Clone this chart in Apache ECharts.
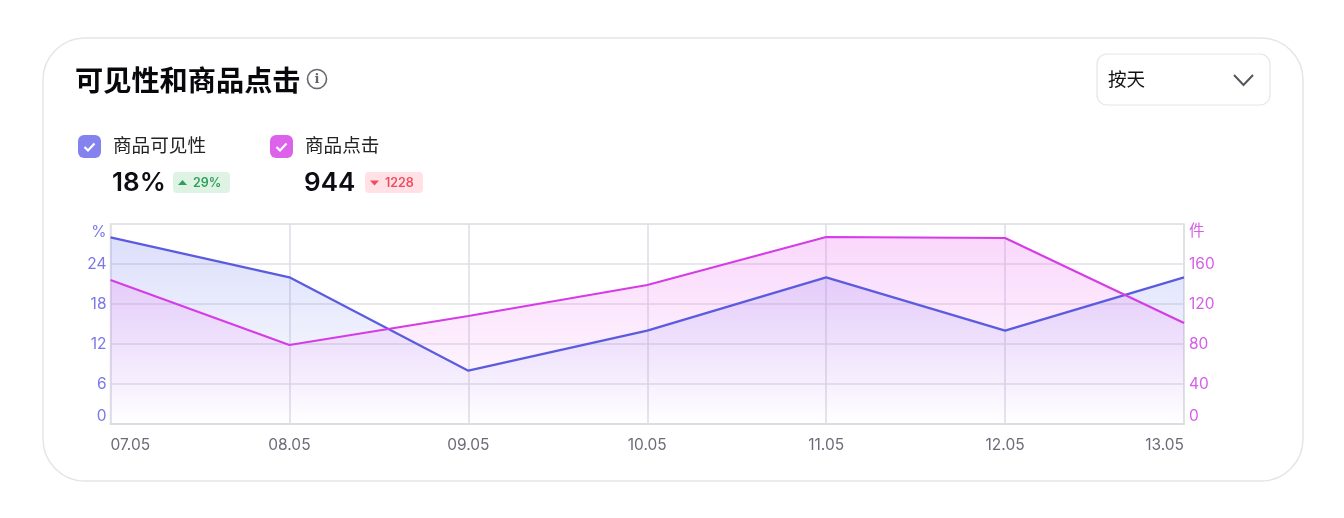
<!DOCTYPE html>
<html><head><meta charset="utf-8">
<style>html,body{margin:0;padding:0;background:#fff}#c{width:1344px;height:518px}</style>
<script src="https://cdn.jsdelivr.net/npm/echarts@6/dist/echarts.min.js"></script>
</head><body><div id="c"></div>
<script>
const categories = ['07.05','08.05','09.05','10.05','11.05','12.05','13.05'];
const visibility = [28,22,8,14,22,14,22];
const clicks = [144,79,108,139,187,186,101];
const titleText = '可见性和商品点击';
const selectorText = '按天';
const seriesNames = ['商品可见性','商品点击'];
const headline = ['18%','944'];
const deltas = ['29%','1228'];

const CJK = '"Noto Sans CJK SC","Inter",sans-serif';
const LAT = 'Inter,"Noto Sans",sans-serif';
function legendItem(x, color, name, val, delta, bg, fg, up, badgeW){
  return [
    {type:'rect',shape:{x:x,y:135,width:23,height:23,r:6},style:{fill:color}},
    {type:'polyline',shape:{points:[[x+6.5,147],[x+10,150.5],[x+16.5,143.5]]},style:{stroke:'#fff',lineWidth:2.2,fill:null}},
    {type:'text',x:x+35,y:145,style:{text:name,font:'400 18.6px '+CJK,fill:'#222',verticalAlign:'middle'}},
    {type:'text',x:x+34,y:183.5,style:{text:val,font:'600 26px '+LAT,fill:'#0c0c12',verticalAlign:'middle'}},
    {type:'rect',shape:{x:x+95,y:172,width:badgeW,height:21,r:4},style:{fill:bg}},
    {type:'polygon',shape:{points:up?[[x+100,185],[x+109,185],[x+104.5,180]]:[[x+100,180.5],[x+109,180.5],[x+104.5,185.5]]},style:{fill:fg}},
    {type:'text',x:x+115,y:183,style:{text:delta,font:'600 12.5px '+LAT,fill:fg,verticalAlign:'middle'}}
  ];
}
const chart = echarts.init(document.getElementById('c'));
chart.setOption({
  animation:false,
  backgroundColor:'#fff',
  graphic:{elements:[
    {type:'rect',z:-10,shape:{x:43,y:38,width:1260,height:443,r:42},style:{fill:'#fff',stroke:'#e5e5e7',lineWidth:1.5}},
    {type:'text',x:75,y:80,style:{text:titleText,font:'700 28.2px '+CJK,fill:'#08080c',verticalAlign:'middle'}},
    {type:'circle',shape:{cx:317,cy:79,r:9.5},style:{fill:'#fff',stroke:'#66666e',lineWidth:1.6}},
    {type:'text',x:317,y:79.5,style:{text:'i',font:'700 13px "DejaVu Serif",serif',fill:'#66666e',align:'center',verticalAlign:'middle'}},
    {type:'rect',shape:{x:1097,y:54,width:173,height:51,r:10},style:{fill:'#fff',stroke:'#e5e5e7',lineWidth:1.2}},
    {type:'text',x:1108,y:78.5,style:{text:selectorText,font:'400 18.6px '+CJK,fill:'#111',verticalAlign:'middle'}},
    {type:'polyline',shape:{points:[[1234,75],[1243.5,85],[1253,75]]},style:{stroke:'#55555c',lineWidth:2,fill:null}},
    ...legendItem(78,'#8482ee',seriesNames[0],headline[0],deltas[0],'#def3e4','#2f9e5c',true,57),
    ...legendItem(270,'#dc62ec',seriesNames[1],headline[1],deltas[1],'#ffe1e6','#ee4d5f',false,58)
  ]},
  grid:{left:110.5,right:160,top:224,bottom:94,show:true,borderColor:'#e4e4e8',borderWidth:1.5,backgroundColor:'transparent'},
  xAxis:{type:'category',boundaryGap:false,data:categories,
    axisLine:{show:true,lineStyle:{color:'#dcdce2',width:2}},axisTick:{show:false},
    splitLine:{show:true,lineStyle:{color:'#dcdce4',width:1.5}},
    axisLabel:{color:'#6c6c78',fontFamily:LAT,fontSize:15.5,margin:13.5,alignMinLabel:'left',alignMaxLabel:'right',interval:0,showMinLabel:true,showMaxLabel:true}},
  yAxis:[
    {type:'value',min:0,max:30,interval:6,position:'left',
     axisLine:{show:false},axisTick:{show:false},
     splitLine:{show:true,lineStyle:{color:'#e0e0e6',width:1.5}},
     axisLabel:{color:'#7a78e8',fontFamily:LAT,fontSize:15.5,margin:4,verticalAlignMinLabel:'bottom',verticalAlignMaxLabel:'top',
       formatter:v=>v===30?'%':String(v)}},
    {type:'value',min:0,max:200,interval:40,position:'right',
     axisLine:{show:false},axisTick:{show:false},splitLine:{show:false},
     axisLabel:{color:'#d65ee8',fontFamily:LAT+',"Noto Sans CJK SC"',fontSize:15.5,margin:5,verticalAlignMinLabel:'bottom',verticalAlignMaxLabel:'top',
       formatter:v=>v===200?'件':String(v)}}
  ],
  series:[
    {name:seriesNames[0],type:'line',yAxisIndex:0,data:visibility,symbol:'none',lineStyle:{color:'#5b5bdf',width:2.2},
     areaStyle:{color:{type:'linear',x:0,y:0,x2:0,y2:1,colorStops:[{offset:0,color:'rgba(118,128,240,0.36)'},{offset:1,color:'rgba(118,128,240,0)'}]}}},
    {name:seriesNames[1],type:'line',yAxisIndex:1,data:clicks,symbol:'none',lineStyle:{color:'#d63ce6',width:2.2},
     areaStyle:{color:{type:'linear',x:0,y:0,x2:0,y2:1,colorStops:[{offset:0,color:'rgba(232,90,240,0.34)'},{offset:1,color:'rgba(232,90,240,0)'}]}}}
  ]
});
</script></body></html>
